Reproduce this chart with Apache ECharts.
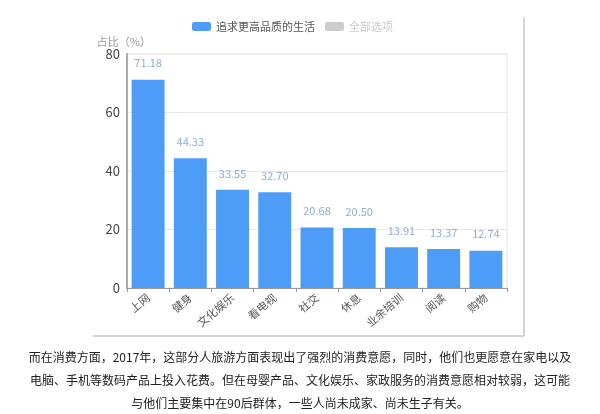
<!DOCTYPE html>
<html><head><meta charset="utf-8">
<script src="https://cdn.jsdelivr.net/npm/echarts@6/dist/echarts.min.js"></script>
<style>html,body{margin:0;padding:0;background:#fff;}#c{width:600px;height:414px;}</style>
</head><body><div id="c"></div>
<script>
const categories = ['上网','健身','文化娱乐','看电视','社交','休息','业余培训','阅读','购物'];
const values = [71.18, 44.33, 33.55, 32.70, 20.68, 20.50, 13.91, 13.37, 12.74];
const yTicks = [0, 20, 40, 60, 80];
const seriesNames = ['追求更高品质的生活', '全部选项'];
const captionLines = [
  '而在消费方面，2017年，这部分人旅游方面表现出了强烈的消费意愿，同时，他们也更愿意在家电以及',
  '电脑、手机等数码产品上投入花费。但在母婴产品、文化娱乐、家政服务的消费意愿相对较弱，这可能',
  '与他们主要集中在90后群体，一些人尚未成家、尚未生子有关。'
];
const chart = echarts.init(document.getElementById('c'));
chart.setOption({
  animation: false,
  textStyle: {fontFamily: '"Noto Sans CJK SC", "Noto Sans", sans-serif'},
  legend: {
    top: 16, left: 187,
    itemWidth: 19, itemHeight: 9, itemGap: 10,
    icon: 'roundRect',
    data: seriesNames,
    selected: {'全部选项': false},
    textStyle: {color: '#555', fontSize: 11},
    inactiveColor: '#ccc'
  },
  grid: {left: 127, right: 93, top: 54, bottom: 126, show: true, borderColor: '#e3e3e3', borderWidth: 1},
  xAxis: {
    type: 'category', data: categories,
    axisLine: {lineStyle: {color: '#999'}},
    axisTick: {show: true, lineStyle: {color: '#999'}, length: 4},
    axisLabel: {rotate: 40, color: '#555', fontSize: 11, interval: 0, margin: 8}
  },
  yAxis: {
    type: 'value', min: yTicks[0], max: yTicks[yTicks.length-1], interval: 20,
    name: '占比（%）', nameGap: 6,
    nameTextStyle: {color: '#999', fontSize: 11, align: 'right', padding: [0, -24, 0, 0]},
    axisLine: {show: true, lineStyle: {color: '#aaa', width: 2}},
    axisTick: {show: false},
    axisLabel: {color: '#444', fontSize: 13, margin: 7},
    splitLine: {lineStyle: {color: '#e8e8e8'}}
  },
  series: [
    {
      name: seriesNames[0], type: 'bar', data: values,
      barCategoryGap: '22%',
      itemStyle: {color: '#4d9cf6'},
      label: {show: true, position: 'top', distance: 11, color: '#8eaed6', fontSize: 11,
        formatter: p => p.value.toFixed(2)}
    },
    {name: seriesNames[1], type: 'bar', data: [], itemStyle: {color: '#bbb'}}
  ],
  graphic: [
    {type: 'line', shape: {x1: 524, y1: 17, x2: 524, y2: 336}, style: {stroke: '#aaa', lineWidth: 1}},
    {type: 'line', shape: {x1: 93, y1: 336, x2: 524, y2: 336}, style: {stroke: '#aaa', lineWidth: 1}},
  ].concat(captionLines.map((t, i) => ({
    type: 'text', left: 'center', top: 351 + i * 23,
    style: {text: t, fill: '#222', fontSize: 12, fontFamily: '"Noto Sans CJK SC", sans-serif'}
  })))
});
</script></body></html>
